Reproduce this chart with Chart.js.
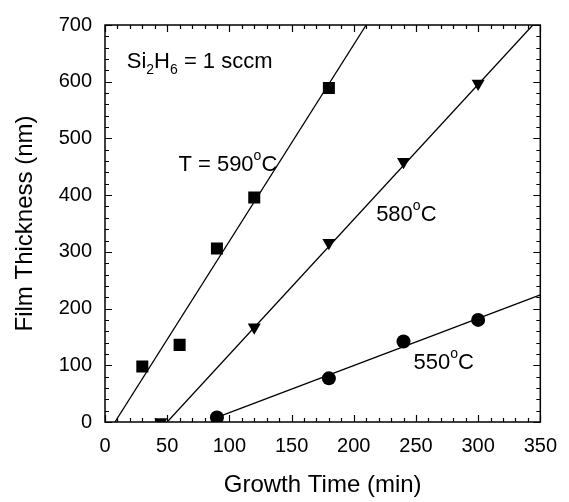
<!DOCTYPE html>
<html lang="en">
<head>
<meta charset="UTF-8">
<title>Film Thickness vs Growth Time</title>
<script src="https://cdn.jsdelivr.net/npm/chart.js"></script>
<style>
  html, body { margin: 0; padding: 0; background: #fff; }
  #wrap { width: 569px; height: 502px; }
</style>
</head>
<body>
<div id="wrap"><canvas id="chart" width="569" height="502"></canvas></div>
<script>
// measured points
const t590 = [30, 60, 90, 120, 180];
const d590 = [98, 136, 306, 396, 589];
const t580 = [45, 120, 180, 240, 300];
const d580 = [0, 167, 316, 459, 597];
const t550 = [90, 180, 240, 300];
const d550 = [8, 77, 142, 180];

// fitted lines (end points)
const fit590x = [8, 210];
const fit590y = [0, 700];
const fit580x = [50, 344];
const fit580y = [0, 700];
const fit550x = [90, 350];
const fit550y = [8, 224];

const xTicks = [0, 50, 100, 150, 200, 250, 300, 350];
const yTicks = [0, 100, 200, 300, 400, 500, 600, 700];

const FONT = '"Liberation Sans", Arial, Helvetica, sans-serif';

function pts(xs, ys) {
  return xs.map((x, i) => ({ x: x, y: ys[i] }));
}

// frame, inward ticks and text labels
const framePlugin = {
  id: 'frame',
  afterDatasetsDraw(chart) {
    const ctx = chart.ctx;
    const a = chart.chartArea;
    const xs = chart.scales.x, ys = chart.scales.y;
    ctx.save();
    ctx.strokeStyle = '#000';
    ctx.lineWidth = 1.5;
    ctx.strokeRect(a.left, a.top, a.right - a.left, a.bottom - a.top);
    ctx.lineWidth = 1.2;
    ctx.beginPath();
    for (let v = 0; v <= 350; v += 10) {
      const p = Math.round(xs.getPixelForValue(v)) + 0.5;
      const len = v % 50 === 0 ? 7 : 4;
      ctx.moveTo(p, a.bottom); ctx.lineTo(p, a.bottom - len);
      ctx.moveTo(p, a.top); ctx.lineTo(p, a.top + len);
    }
    for (let v = 0; v <= 700; v += 20) {
      const p = Math.round(ys.getPixelForValue(v)) + 0.5;
      const len = v % 100 === 0 ? 7 : 4;
      ctx.moveTo(a.left, p); ctx.lineTo(a.left + len, p);
      ctx.moveTo(a.right, p); ctx.lineTo(a.right - len, p);
    }
    ctx.stroke();

    ctx.fillStyle = '#000';
    ctx.textBaseline = 'alphabetic';
    ctx.textAlign = 'left';
    const big = '22px ' + FONT, small = '14px ' + FONT;

    // Si2H6 = 1 sccm
    let x = xs.getPixelForValue(17.5), y = ys.getPixelForValue(625);
    const parts = [['Si', big, 0], ['2', small, 6], ['H', big, 0], ['6', small, 6], [' = 1 sccm', big, 0]];
    parts.forEach(p => {
      ctx.font = p[1];
      ctx.fillText(p[0], x, y + p[2]);
      x += ctx.measureText(p[0]).width;
    });

    function tempLabel(prefix, num, dx, dy) {
      let px = xs.getPixelForValue(dx), py = ys.getPixelForValue(dy);
      ctx.font = big;
      ctx.fillText(prefix + num, px, py);
      px += ctx.measureText(prefix + num).width;
      ctx.font = small;
      ctx.fillText('o', px, py - 11);
      px += ctx.measureText('o').width;
      ctx.font = big;
      ctx.fillText('C', px, py);
    }
    tempLabel('T = ', '590', 59, 443);
    tempLabel('', '580', 218, 354);
    tempLabel('', '550', 248, 94);
    ctx.restore();
  }
};

const lineStyle = { showLine: true, borderColor: '#000', borderWidth: 1.3, pointRadius: 0, fill: false, order: 2 };
const markStyle = { showLine: false, backgroundColor: '#000', borderColor: '#000', borderWidth: 0, order: 1 };

new Chart(document.getElementById('chart'), {
  type: 'scatter',
  data: {
    datasets: [
      Object.assign({ label: 'fit 590', data: pts(fit590x, fit590y) }, lineStyle),
      Object.assign({ label: 'fit 580', data: pts(fit580x, fit580y) }, lineStyle),
      Object.assign({ label: 'fit 550', data: pts(fit550x, fit550y) }, lineStyle),
      Object.assign({ label: '590', data: pts(t590, d590), pointStyle: 'rect', pointRadius: 8.5 }, markStyle),
      Object.assign({ label: '580', data: pts(t580, d580), pointStyle: 'triangle', rotation: 180, pointRadius: 7.5 }, markStyle),
      Object.assign({ label: '550', data: pts(t550, d550), pointStyle: 'circle', pointRadius: 7 }, markStyle)
    ]
  },
  options: {
    responsive: false,
    animation: false,
    layout: { padding: { left: 0, top: 19, right: 23, bottom: 0 } },
    plugins: {
      legend: { display: false },
      tooltip: { enabled: false }
    },
    scales: {
      x: {
        type: 'linear',
        min: 0, max: 350,
        afterBuildTicks: s => { s.ticks = xTicks.map(v => ({ value: v })); },
        afterFit: s => { s.height = 80; },
        grid: { display: false, drawTicks: false },
        border: { display: false },
        ticks: { color: '#000', padding: 12, maxRotation: 0, font: { family: FONT, size: 20 } },
        title: { display: true, text: 'Growth Time (min)', color: '#000', padding: { top: 0, bottom: 2 }, font: { family: FONT, size: 24 } }
      },
      y: {
        type: 'linear',
        min: 0, max: 700,
        afterBuildTicks: s => { s.ticks = yTicks.map(v => ({ value: v })); },
        afterFit: s => { s.width = 105; },
        grid: { display: false, drawTicks: false },
        border: { display: false },
        ticks: { color: '#000', padding: 13, font: { family: FONT, size: 20 } },
        title: { display: true, text: 'Film Thickness (nm)', color: '#000', padding: { top: 11, bottom: 0 }, font: { family: FONT, size: 24 } }
      }
    }
  },
  plugins: [framePlugin]
});
</script>
</body>
</html>
